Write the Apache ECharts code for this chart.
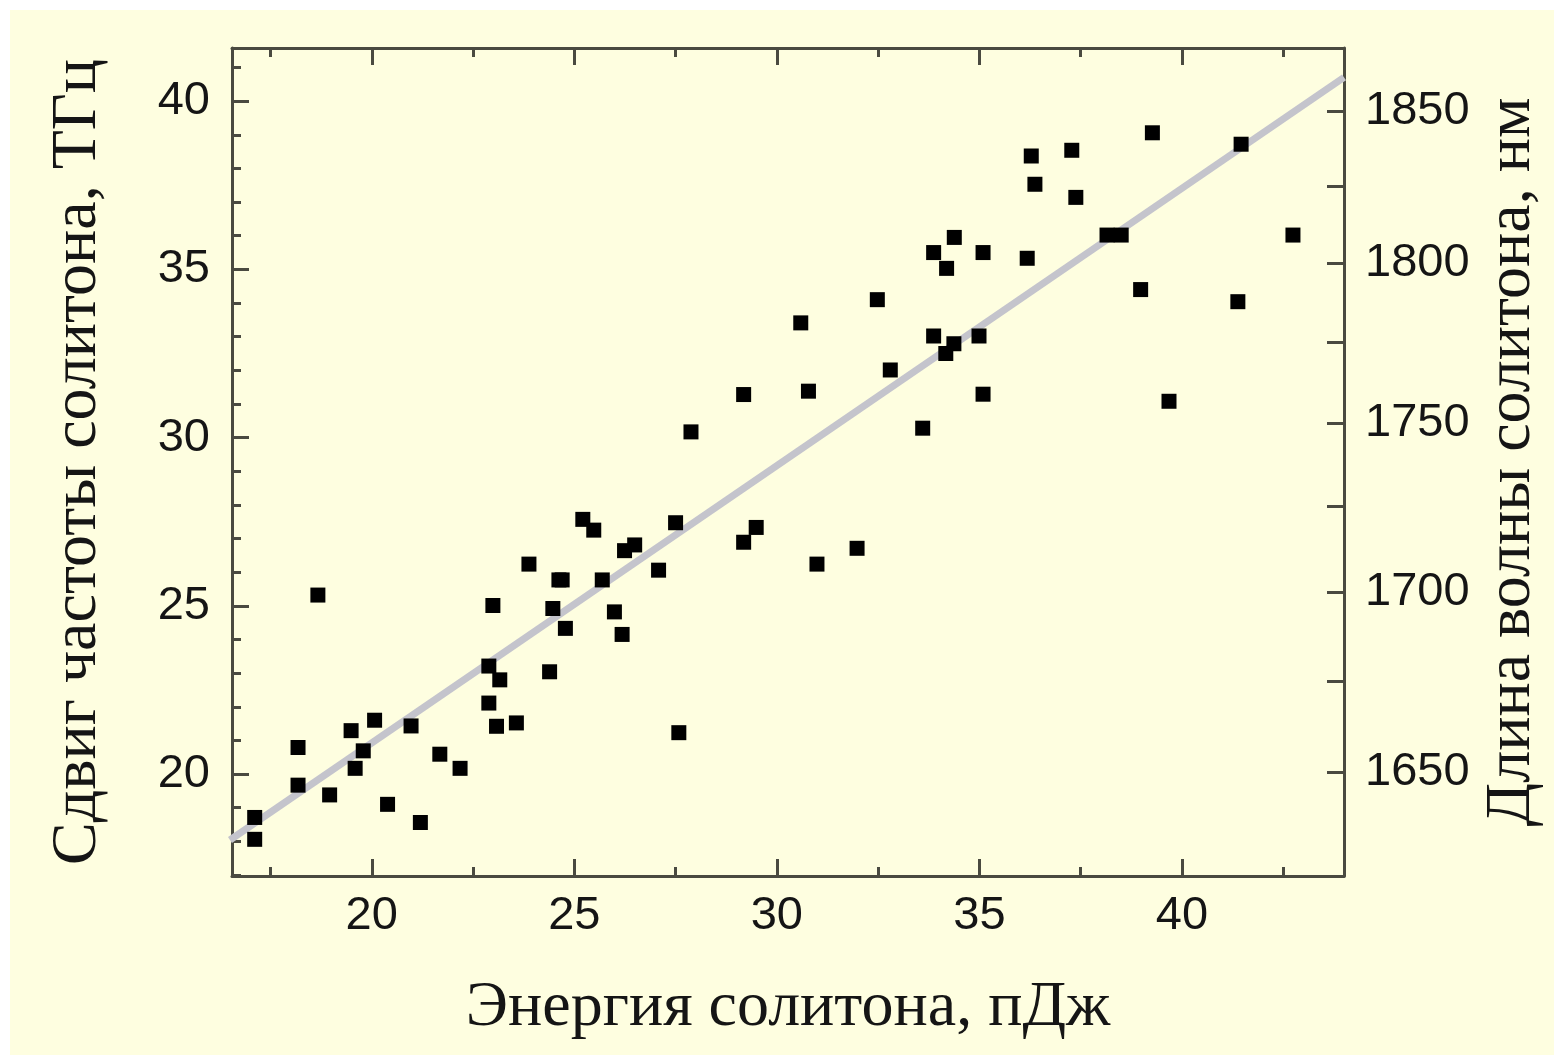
<!DOCTYPE html>
<html><head><meta charset="utf-8">
<script src="https://cdn.jsdelivr.net/npm/echarts@6/dist/echarts.min.js"></script>
<style>
html,body{margin:0;padding:0;background:#fff;overflow:hidden;}
#bg{position:absolute;left:10px;top:10px;width:1544px;height:1045px;background:#FEFEE0;}
#chart{position:absolute;left:0;top:0;width:1554px;height:1055px;}
</style></head><body>
<div id="bg"></div><div id="chart"></div>
<script>
// soliton energy, pJ
const energy = [17.11,17.11,18.18,18.18,18.96,19.49,19.79,19.59,20.07,20.39,20.97,21.20,18.67,21.68,22.18,
  22.89,23.16,22.89,23.08,23.57,22.99,23.88,24.39,24.47,24.62,24.70,24.78,25.21,25.48,25.69,
  25.99,26.18,26.24,26.49,27.08,27.50,27.58,27.88,29.18,29.18,29.49,30.59,30.78,30.99,31.98,
  32.48,32.80,33.60,33.87,34.37,34.17,34.99,35.09,33.87,34.38,35.09,34.19,36.18,36.28,36.37,
  37.28,37.38,38.15,38.50,38.98,39.27,39.68,41.38,41.46,42.74];
// soliton frequency shift, THz
const shift = [18.71,18.06,20.79,19.67,19.38,21.29,20.69,20.17,21.60,19.10,21.43,18.56,25.32,20.59,20.17,
  23.21,22.80,22.11,21.42,21.52,25.01,26.24,23.04,24.92,25.77,25.77,24.33,27.57,27.25,25.77,
  24.82,24.15,26.64,26.81,26.06,27.47,21.23,30.17,31.28,26.89,27.33,33.41,31.38,26.24,26.71,
  34.10,32.01,30.28,33.02,32.79,32.50,33.02,31.29,35.50,35.95,35.50,35.03,35.33,38.37,37.53,
  38.54,37.14,36.02,36.02,34.40,39.06,31.08,34.04,38.72,36.02];
// linear fit end points
const fitEnergy = [16.5, 44.0];
const fitShift = [18.04, 40.71];

const xMajorTicks = [20, 25, 30, 35, 40];
const xMinorTicks = [17.5, 22.5, 27.5, 32.5, 37.5, 42.5];
const yMajorTicks = [20, 25, 30, 35, 40];
const yMinorTicks = [17, 18, 19, 21, 22, 23, 24, 26, 27, 28, 29, 31, 32, 33, 34, 36, 37, 38, 39, 41];
const wavelengthLabels = [1650, 1700, 1750, 1800, 1850];
const wavelengthTicks = [1650, 1675, 1700, 1725, 1750, 1775, 1800, 1825, 1850];

const C_NM_THZ = 299792.458;
const PUMP_NM = 1486;
const F0 = C_NM_THZ / PUMP_NM;
const toShift = l => F0 - C_NM_THZ / l;
const toWavelength = v => Math.round(C_NM_THZ / (F0 - v));

const X_MIN = 16.55, X_MAX = 44.0, Y_MIN = 16.97, Y_MAX = 41.58;
const FRAME = '#4a4a40';
const LABEL = '#151515';
const SANS = '"Liberation Sans", Arial, sans-serif';
const SERIF = '"Liberation Serif", "Times New Roman", serif';

const line = {lineStyle: {color: FRAME, width: 3}};
function tickAxis(extra) { return Object.assign({type: 'value', splitLine: {show: false}}, extra); }

const chart = echarts.init(document.getElementById('chart'));
chart.setOption({
  animation: false,
  backgroundColor: 'transparent',
  grid: {left: 232, right: 210, top: 48, bottom: 179, containLabel: false},
  xAxis: [
    tickAxis({position: 'bottom', min: X_MIN, max: X_MAX,
      axisLine: Object.assign({show: true}, line),
      axisTick: {inside: true, length: 17, customValues: xMajorTicks, lineStyle: {color: FRAME, width: 3}},
      axisLabel: {customValues: xMajorTicks, fontSize: 47, color: LABEL, fontFamily: SANS, margin: 17},
      name: 'Энергия солитона, пДж', nameLocation: 'middle', nameGap: 100,
      nameTextStyle: {fontSize: 64, fontFamily: SERIF, color: LABEL}}),
    tickAxis({position: 'bottom', min: X_MIN, max: X_MAX,
      axisLine: {show: false},
      axisTick: {inside: true, length: 9, customValues: xMinorTicks, lineStyle: {color: FRAME, width: 3}},
      axisLabel: {show: false}}),
    tickAxis({position: 'top', min: X_MIN, max: X_MAX,
      axisLine: Object.assign({show: true}, line),
      axisTick: {inside: true, length: 17, customValues: xMajorTicks, lineStyle: {color: FRAME, width: 3}},
      axisLabel: {show: false}}),
    tickAxis({position: 'top', min: X_MIN, max: X_MAX,
      axisLine: {show: false},
      axisTick: {inside: true, length: 9, customValues: xMinorTicks, lineStyle: {color: FRAME, width: 3}},
      axisLabel: {show: false}})
  ],
  yAxis: [
    tickAxis({position: 'left', min: Y_MIN, max: Y_MAX,
      axisLine: Object.assign({show: true}, line),
      axisTick: {inside: true, length: 17, customValues: yMajorTicks, lineStyle: {color: FRAME, width: 3}},
      axisLabel: {customValues: yMajorTicks, fontSize: 47, color: LABEL, fontFamily: SANS, margin: 22,
        padding: [0, 0, 10, 0]},
      name: 'Сдвиг частоты солитона, ТГц', nameLocation: 'middle', nameGap: 122,
      nameTextStyle: {fontSize: 64, fontFamily: SERIF, color: LABEL}}),
    tickAxis({position: 'left', min: Y_MIN, max: Y_MAX,
      axisLine: {show: false},
      axisTick: {inside: true, length: 9, customValues: yMinorTicks, lineStyle: {color: FRAME, width: 3}},
      axisLabel: {show: false}}),
    tickAxis({position: 'right', min: Y_MIN, max: Y_MAX,
      axisLine: Object.assign({show: true}, line),
      axisTick: {inside: true, length: 17, customValues: wavelengthTicks.map(toShift), lineStyle: {color: FRAME, width: 3}},
      axisLabel: {customValues: wavelengthLabels.map(toShift), formatter: v => String(toWavelength(v)),
        fontSize: 47, color: LABEL, fontFamily: SANS, margin: 21, padding: [0, 0, 10, 0]},
      name: 'Длина волны солитона, нм', nameLocation: 'middle', nameGap: 128,
      nameTextStyle: {fontSize: 64, fontFamily: SERIF, color: LABEL}})
  ],
  series: [
    {type: 'line', xAxisIndex: 0, yAxisIndex: 0, z: 1, symbol: 'none', silent: true,
      data: fitEnergy.map((e, i) => [e, fitShift[i]]),
      lineStyle: {color: '#c4c4cc', width: 7}},
    {type: 'scatter', xAxisIndex: 0, yAxisIndex: 0, z: 3, symbol: 'rect', symbolSize: 15,
      itemStyle: {color: '#000000', opacity: 1},
      data: energy.map((e, i) => [e, shift[i]])}
  ]
});
</script>
</body></html>
